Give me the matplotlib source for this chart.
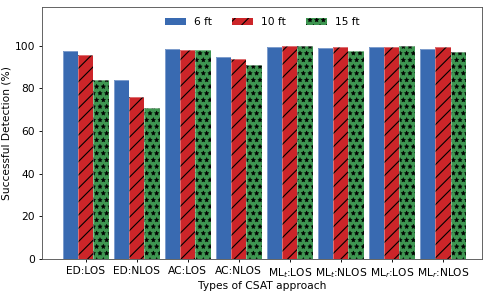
import numpy as np
import matplotlib.pyplot as plt

categories = ['ED:LOS', 'ED:NLOS', 'AC:LOS', 'AC:NLOS',
              'ML$_t$:LOS', 'ML$_t$:NLOS', 'ML$_r$:LOS', 'ML$_r$:NLOS']
ft6 = [97.7, 83.8, 98.7, 94.8, 99.4, 98.8, 99.4, 98.7]
ft10 = [95.9, 75.9, 98.2, 94.0, 99.8, 99.3, 99.3, 99.3]
ft15 = [83.8, 71.0, 97.9, 90.9, 99.8, 97.7, 99.7, 97.3]
series_labels = ['6 ft', '10 ft', '15 ft']

plt.rcParams['hatch.linewidth'] = 1.0

# drawn at dpi 80 so hatch spacing matches the reference
fig = plt.figure(figsize=(6.125, 3.6875), dpi=80)
ax = fig.add_axes([0.086, 0.122, 0.898, 0.853])

x = np.arange(len(categories))
w = 0.3
colors = ['#396AB1', '#CC2529', '#3E9651']
hatches = [None, '//', '**']
hatch_lw = [1.0, 1.0, 0.4]
for i, vals in enumerate([ft6, ft10, ft15]):
    bars = ax.bar(x + (i - 1) * w, vals, w, color=colors[i], hatch=hatches[i],
                  edgecolor='black', linewidth=0, label=series_labels[i])
    for b in bars:
        if hasattr(b, 'set_hatch_linewidth'):
            b.set_hatch_linewidth(hatch_lw[i])
    # light outline
    ax.bar(x + (i - 1) * w, vals, w, fill=False, edgecolor='white',
           alpha=0.35, linewidth=0.9)

fs = 9.6
ax.set_xticks(x)
ax.set_xticklabels(categories, fontsize=fs)
ax.tick_params(axis='y', labelsize=fs, length=3)
ax.tick_params(axis='x', length=2.6)
ax.set_xlim(-0.85, 7.77)
ax.set_ylim(0, 118)
ax.set_yticks([0, 20, 40, 60, 80, 100])
ax.set_ylabel('Successful Detection (%)', fontsize=fs, labelpad=3)
ax.set_xlabel('Types of CSAT approach', fontsize=fs, labelpad=1)
for s in ax.spines.values():
    s.set_color('#555555')

leg = ax.legend(loc='upper center', ncol=3, frameon=False, fontsize=fs,
                handlelength=2.0, handletextpad=0.7, columnspacing=1.9)
for i, h in enumerate(leg.get_patches()):
    if hasattr(h, 'set_hatch_linewidth'):
        h.set_hatch_linewidth(hatch_lw[i])

fig.savefig('out.png', dpi=80)
